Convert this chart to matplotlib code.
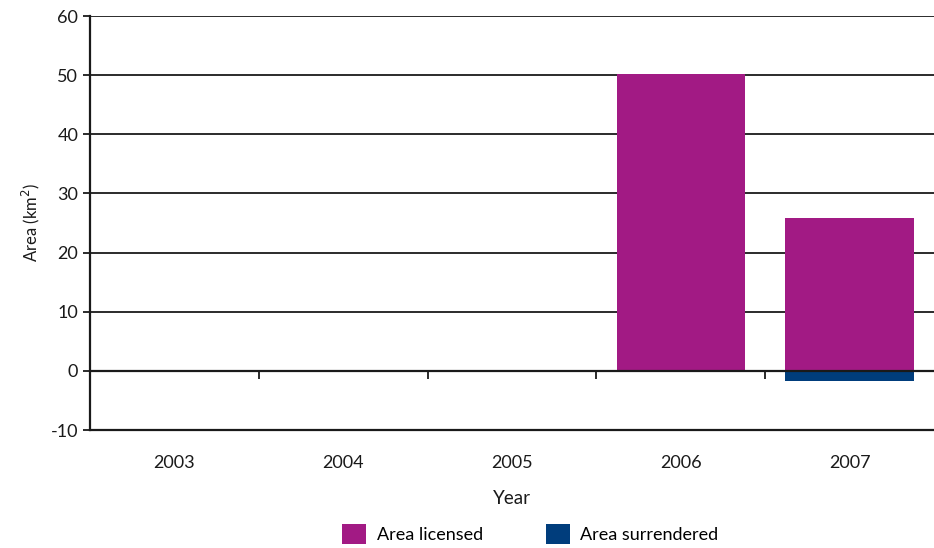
import matplotlib.pyplot as plt
import numpy as np

plt.rcParams["font.family"] = ["Lato", "DejaVu Sans"]

years = ["2003", "2004", "2005", "2006", "2007"]
licensed = [0, 0, 0, 50.2, 25.8]
surrendered = [0, 0, 0, 0, -1.65]

fig = plt.figure(figsize=(9.34, 5.48), dpi=100)
ax = fig.add_axes([0.0964, 0.2153, 0.9036, 0.7555])

x = np.arange(len(years))
ax.bar(x, licensed, width=0.76, color="#A21A84", label="Area licensed", zorder=2)
ax.bar(x, surrendered, width=0.76, color="#003D7C", label="Area surrendered", zorder=2)

ax.set_xlim(-0.5, 4.5)
ax.set_ylim(-10, 60)
ax.set_yticks(range(-10, 61, 10))
ax.set_yticklabels(["-10", "0", "10", "20", "30", "40", "50", "60"])
ax.yaxis.grid(True, color="#1a1a1a", linewidth=1.3, zorder=1)
ax.set_axisbelow(True)
ax.axhline(0, color="#1a1a1a", linewidth=1.6, zorder=3)

for s in ["top", "right"]:
    ax.spines[s].set_visible(False)
ax.spines["left"].set_linewidth(1.6)
ax.spines["bottom"].set_linewidth(1.6)
ax.spines["left"].set_color("#1a1a1a")
ax.spines["bottom"].set_color("#1a1a1a")

ax.set_xticks(x)
ax.set_xticklabels(years)
ax.tick_params(axis="x", length=0, pad=18, labelsize=13, colors="#1a1a1a")
ax.tick_params(axis="y", length=5, width=1.3, labelsize=13, colors="#1a1a1a")

# tick marks at category boundaries on the zero line
sec = ax.secondary_xaxis(10 / 70)
sec.set_xticks([0.5, 1.5, 2.5, 3.5])
sec.set_xticklabels([])
sec.tick_params(axis="x", direction="out", length=6, width=1.3, colors="#1a1a1a")
sec.spines["bottom"].set_visible(False)

ax.set_xlabel("Year", fontsize=13.5, labelpad=14, color="#1a1a1a")
ax.set_ylabel("Area (km$^2$)", fontsize=12, labelpad=6, color="#1a1a1a")

fig.legend(loc="lower center", bbox_to_anchor=(0.568, -0.022), ncol=2, frameon=False,
           fontsize=13, handlelength=1.3, handleheight=1.35, columnspacing=3.5,
           handletextpad=0.6)

fig.savefig("out.png", dpi=100)
